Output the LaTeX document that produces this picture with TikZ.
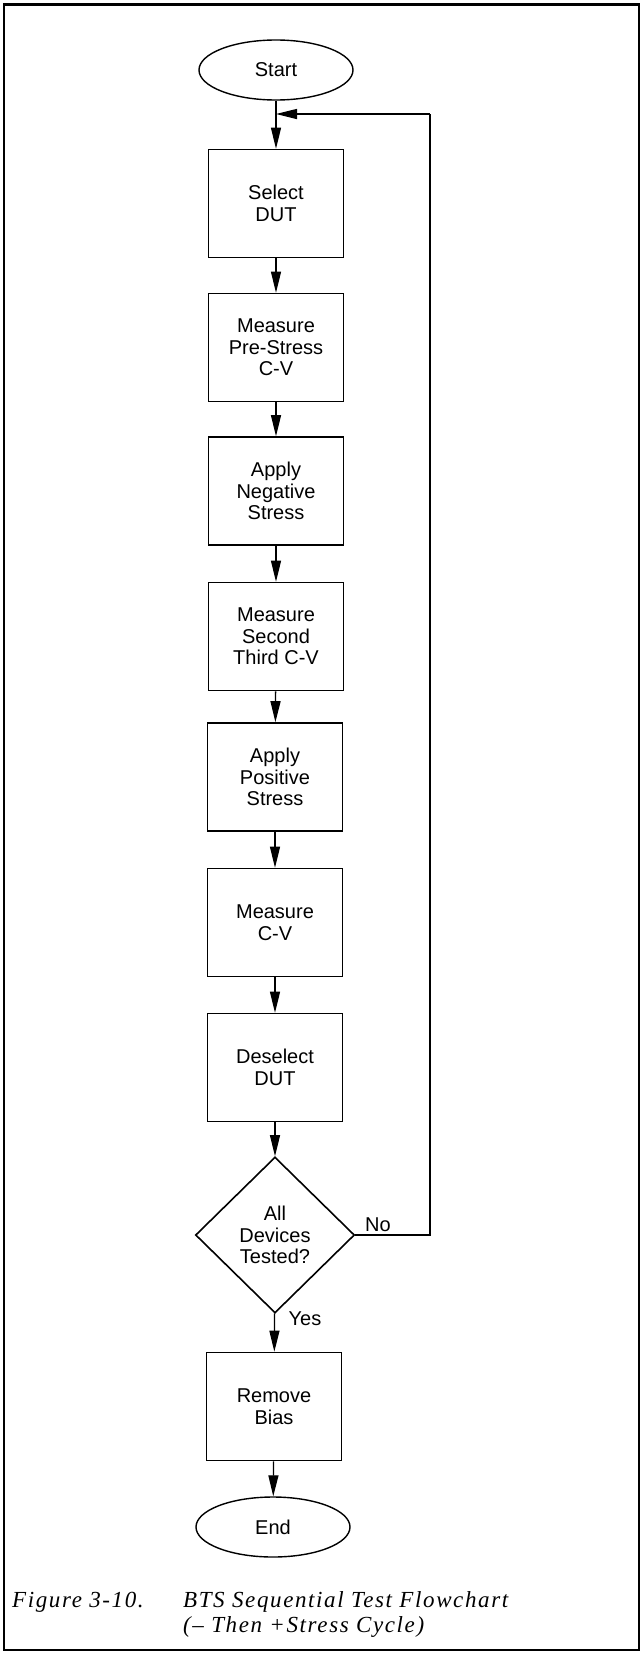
\documentclass[tikz,border=0pt]{standalone}
\usepackage{fontspec}
\setmainfont{Liberation Sans}
\newfontfamily\capfont[LetterSpace=7]{Liberation Serif}
\usetikzlibrary{shapes.geometric,arrows.meta}
\begin{document}
\begin{tikzpicture}[x=1pt,y=-1pt,
  txt/.style={font=\fontsize{20}{21.5}\selectfont},
  box/.style={txt, draw, line width=1.6pt, minimum width=135pt, minimum height=108pt, inner sep=0pt, align=center},
  term/.style={txt, draw, ellipse, line width=1.4pt, minimum width=154pt, minimum height=60pt, inner sep=0pt},
  dec/.style={txt, draw, diamond, aspect=1, line width=1.6pt, minimum width=159pt, minimum height=156pt, inner sep=0pt, align=center},
  conn/.style={line width=1.3pt},
  arr/.style={conn, -{Triangle[length=21pt,width=10pt]}},
  lbl/.style={txt, inner sep=0pt},
  captext/.style={font=\capfont\itshape\fontsize{23}{28}\selectfont, inner sep=0pt, anchor=base west}
]
\path[use as bounding box] (0,0) rectangle (642,1657);
\draw[line width=2pt] (4,4) rectangle (639,1650);
\draw[line width=3pt] (3,4) -- (640,4);

\node[term] (start) at (276,70) {Start};
\node[box] (sel) at (276,203.5) {Select\\DUT};
\node[box] (mpre) at (276,347.5) {Measure\\Pre-Stress\\C-V};
\node[box] (aneg) at (276,491) {Apply\\Negative\\Stress};
\node[box] (msec) at (276,636.5) {Measure\\Second\\Third C-V};
\node[box] (apos) at (275,777) {Apply\\Positive\\Stress};
\node[box] (mcv) at (275,922.5) {Measure\\C-V};
\node[box] (desel) at (275,1067.5) {Deselect\\DUT};
\node[dec] (all) at (275,1235) {All\\Devices\\Tested?};
\node[box] (rem) at (274,1406.5) {Remove\\Bias};
\node[term] (end) at (273,1527) {End};

\draw[arr] (start) -- (sel);
\draw[arr] (sel) -- (mpre);
\draw[arr] (mpre) -- (aneg);
\draw[arr] (aneg) -- (msec);
\draw[arr] (msec) -- (apos);
\draw[arr] (apos) -- (mcv);
\draw[arr] (mcv) -- (desel);
\draw[arr] (desel) -- (all);
\draw[arr] (all) -- (rem);
\draw[arr] (rem) -- (end);

\coordinate (loopR) at (430,114);
\coordinate (loopL) at (276,114);
\draw[conn] (all.east) -| (loopR);
\draw[arr] (loopR) -- (loopL);

\node[lbl] (no) at (378,1225) {No};
\node[lbl] (yes) at (305,1319) {Yes};

\node[captext] (fig) at (12,1607) {Figure 3-10.};
\node[captext] (cap1) at (183,1607) {BTS Sequential Test Flowchart};
\node[captext] (cap2) at (183,1632) {(– Then +Stress Cycle)};
\end{tikzpicture}
\end{document}
